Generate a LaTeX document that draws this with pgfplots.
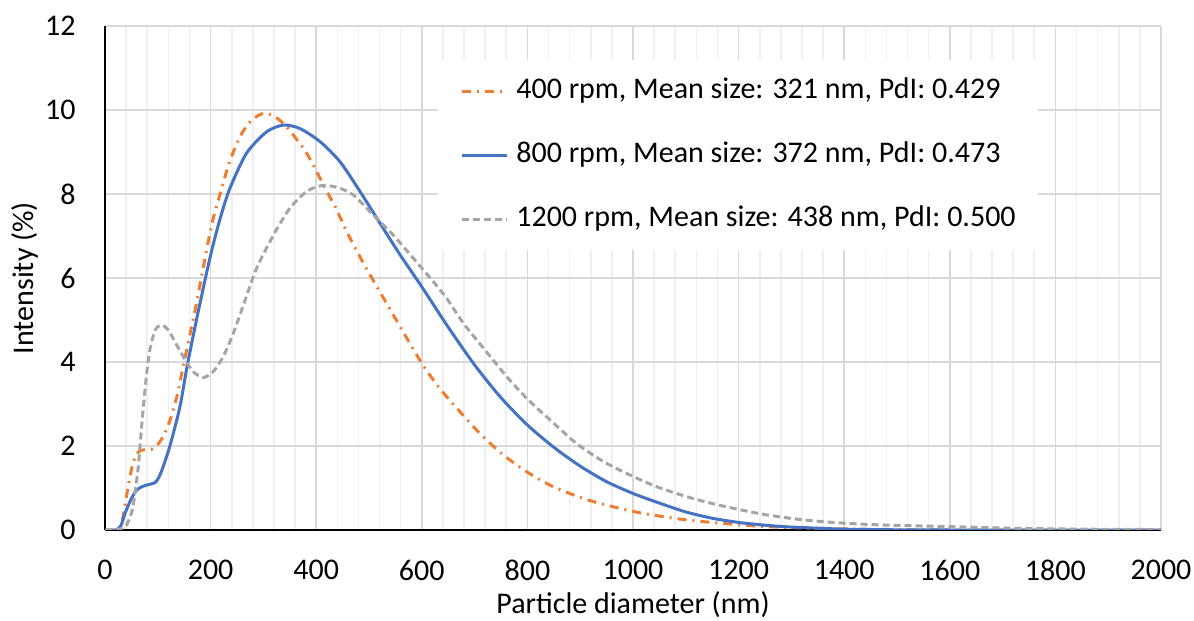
\documentclass[border=0pt]{standalone}
\usepackage{fontspec}
\setmainfont{Carlito}
\usepackage{pgfplots}
\pgfplotsset{compat=1.18}
\definecolor{cOrange}{HTML}{ED7D31}
\definecolor{cBlue}{HTML}{4472C4}
\definecolor{cGray}{HTML}{A5A5A5}
\definecolor{gMajor}{HTML}{D9D9D9}
\definecolor{gMinor}{HTML}{EFEFEF}
\newcommand\cf{\fontsize{15pt}{18pt}\selectfont}
\begin{document}
\cf
\begin{tikzpicture}
\begin{axis}[
  scale only axis, width=528pt, height=252pt,
  xmin=0, xmax=2000, ymin=0, ymax=12,
  xtick={0,200,...,2000}, ytick={0,2,...,12},
  minor x tick num=4,
  axis x line=bottom, axis y line=left,
  axis line style={-, black, line width=0.9pt},
  major tick length=0pt, minor tick length=0pt,
  xmajorgrids, ymajorgrids, xminorgrids,
  major grid style={gMajor, line width=0.8pt},
  minor grid style={gMinor, line width=0.8pt},
  scaled ticks=false,
  /pgf/number format/.cd, 1000 sep={}, assume math mode=true,
  /pgfplots/.cd,
  xticklabel style={font=\cf, inner sep=0pt, anchor=north, yshift=-15pt},
  yticklabel style={font=\cf, inner sep=0pt, anchor=east, xshift=-14.5pt},
  xlabel={Particle diameter (nm)},
  ylabel={Intensity (\%)},
  every axis x label/.style={at={(axis description cs:0.5,-0.1488)}, anchor=center, font=\cf},
  every axis y label/.style={at={(axis description cs:-0.0758,0.5)}, anchor=center, rotate=90, font=\cf},
  legend style={at={(axis description cs:0.3153,0.9325)}, anchor=north west,
    fill=white, draw=none, font=\cf,
    inner xsep=11pt, inner ysep=9pt, row sep=19pt,
    nodes={inner sep=0pt, text height=10pt, text depth=3pt},
    /tikz/every odd column/.append style={column sep=4pt}},
  legend cell align=left,
  legend image code/.code={\draw[#1] (0pt,0pt) -- (22.5pt,0pt);},
]
\addplot[cOrange, line width=1.5pt, smooth, tension=0.45, dash pattern=on 4.5pt off 3pt on 1pt off 3pt] coordinates {
(0,0) (20,0) (26,0.05) (32,0.16) (41,0.83) (52,1.55) (60,1.81) (69,1.9) (88,1.92) (104,2.1) (120,2.5) (136,3.17) (148,3.89) (160,4.6) (172,5.32) (193,6.7) (205,7.42) (221,8.13) (237,8.81) (259,9.44) (278,9.76) (300,9.92) (322,9.84) (344,9.6) (366,9.25) (382,8.97) (401,8.53) (420,8.06) (436,7.7) (458,7.1) (486,6.43) (515,5.79) (559,4.84) (600,3.97) (634,3.37) (672,2.82) (710,2.3) (754,1.79) (802,1.36) (849,1.03) (906,0.75) (960,0.56) (1013,0.41) (1051,0.33) (1095,0.25) (1158,0.17) (1253,0.08) (1379,0.03) (1500,0.01) (1600,0) (2000,0)
};
\addlegendentry{400 rpm, Mean size: 321 nm, PdI: 0.429}
\addplot[cBlue, line width=1.5pt, smooth, tension=0.45] coordinates {
(0,0) (20,0) (30,0.1) (38,0.4) (50,0.75) (60,0.95) (70,1.03) (79,1.07) (95,1.13) (103,1.28) (110,1.5) (118,1.8) (126,2.14) (142,2.94) (156,3.93) (174,5.05) (180,5.4) (192,6.1) (205,6.8) (220,7.5) (237,8.15) (268,8.97) (306,9.48) (338,9.64) (369,9.56) (407,9.25) (445,8.77) (483,8.06) (521,7.3) (559,6.55) (600,5.79) (650,4.83) (700,3.93) (750,3.15) (800,2.5) (850,1.97) (900,1.52) (950,1.15) (1000,0.87) (1050,0.64) (1100,0.43) (1150,0.28) (1200,0.18) (1250,0.115) (1300,0.07) (1400,0.02) (1500,0.005) (1600,0) (2000,0)
};
\addlegendentry{800 rpm, Mean size: 372 nm, PdI: 0.473}
\addplot[cGray, line width=1.5pt, smooth, tension=0.45, dash pattern=on 3.5pt off 2pt] coordinates {
(0,0) (16,0) (30,0.03) (41,0.12) (50,0.4) (54,0.63) (58,1.0) (63,1.5) (71,2.7) (79,3.73) (85,4.29) (95,4.76) (107,4.88) (120,4.76) (136,4.4) (152,4.05) (167,3.77) (186,3.63) (205,3.77) (224,4.13) (243,4.68) (262,5.35) (287,6.23) (319,7.02) (350,7.66) (382,8.06) (410,8.2) (439,8.16) (470,7.98) (508,7.5) (546,7.02) (584,6.47) (622,5.91) (647,5.52) (679,4.92) (720,4.28) (761,3.65) (799,3.13) (843,2.62) (893,2.06) (944,1.63) (994,1.31) (1045,1.03) (1100,0.8) (1150,0.63) (1200,0.49) (1253,0.36) (1316,0.25) (1379,0.18) (1450,0.13) (1530,0.1) (1600,0.08) (1727,0.04) (1850,0.02) (2000,0.01)
};
\addlegendentry{1200 rpm, Mean size: 438 nm, PdI: 0.500}
\end{axis}
\pgfresetboundingbox
\path (-52.5pt,-45.5pt) rectangle (544.5pt,265pt);
\end{tikzpicture}
\end{document}
